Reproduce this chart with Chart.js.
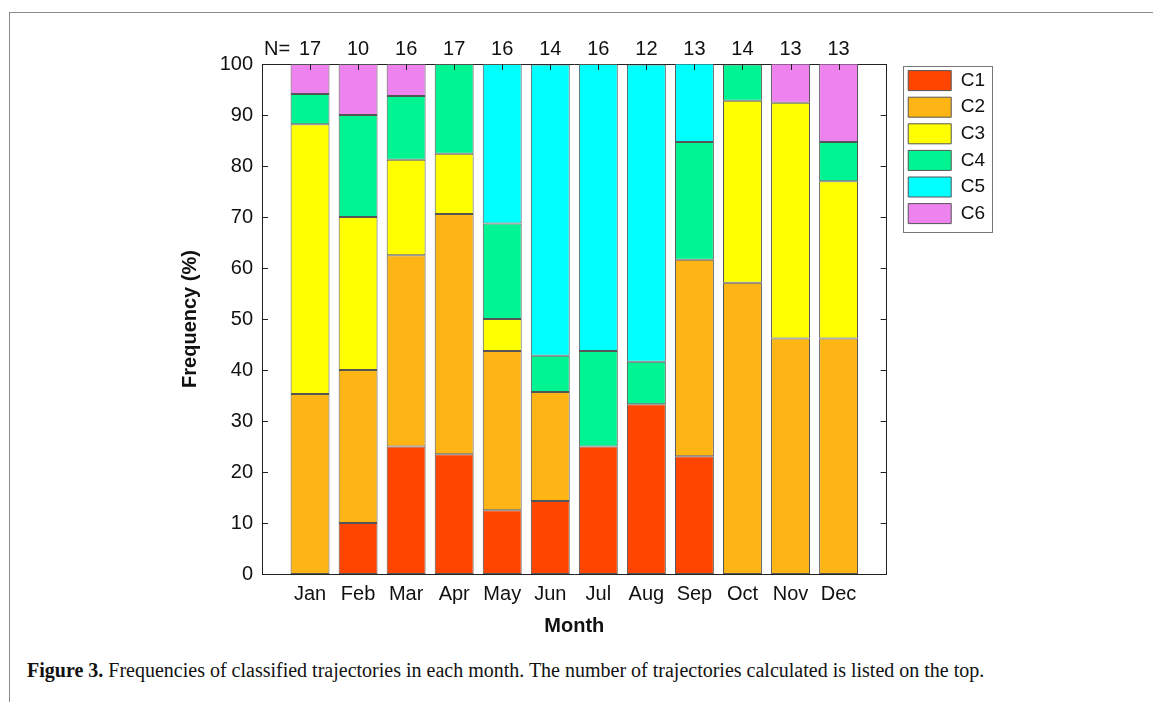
<!DOCTYPE html>
<html lang="en">
<head>
  <meta charset="UTF-8" />
  <title>Figure 3</title>
  <script src="https://cdn.jsdelivr.net/npm/chart.js"></script>
  <style>
    body { margin: 0; background: #fff; }
    .frame { position: absolute; left: 9px; top: 12px; right: -2px; bottom: -2px;
      border-top: 1.5px solid #8a8a8a; border-left: 1.5px solid #8a8a8a; }
    .grafico { position: absolute; left: 0; top: 0; width: 1153px; height: 650px; }
    .legenda { position: absolute; left: 27px; top: 659px; font-family: "Liberation Serif", serif;
      font-size: 20px; color: #111; white-space: nowrap; }
  </style>
</head>
<body>
  <div class="frame"></div>
  <div class="grafico"><canvas id="myChart" width="1153" height="650"></canvas></div>
  <div class="legenda"><b>Figure 3.</b> Frequencies of classified trajectories in each month. The number of trajectories calculated is listed on the top.</div>

<script>
  // dados (%)
  const meses = ['Jan', 'Feb', 'Mar', 'Apr', 'May', 'Jun', 'Jul', 'Aug', 'Sep', 'Oct', 'Nov', 'Dec'];
  const totalN = [17, 10, 16, 17, 16, 14, 16, 12, 13, 14, 13, 13];
  const c1 = [0, 10, 25, 23.5, 12.5, 14.3, 25, 33.3, 23.1, 0, 0, 0];
  const c2 = [35.3, 30, 37.5, 47.1, 31.25, 21.4, 0, 0, 38.5, 57.1, 46.2, 46.2];
  const c3 = [52.9, 30, 18.75, 11.8, 6.25, 0, 0, 0, 0, 35.7, 46.2, 30.8];
  const c4 = [5.9, 20, 12.5, 17.6, 18.75, 7.1, 18.75, 8.3, 23.1, 7.1, 0, 7.7];
  const c5 = [0, 0, 0, 0, 31.25, 57.1, 56.25, 58.3, 15.4, 0, 0, 0];
  const c6 = [5.9, 10, 6.25, 0, 0, 0, 0, 0, 0, 0, 7.7, 15.4];
  const yTicks = [0, 10, 20, 30, 40, 50, 60, 70, 80, 90, 100];

  const nomes = ['C1', 'C2', 'C3', 'C4', 'C5', 'C6'];
  const series = [c1, c2, c3, c4, c5, c6];
  const cores = ['#ff4500', '#fdb515', '#ffff00', '#00f592', '#00ffff', '#ee82ee'];

  // categoria vazia em cada ponta para deixar o espaco antes de Jan e depois de Dec
  let labels = [''].concat(meses, ['']);

  let dados = {
    labels: labels,
    datasets: series.map(function (s, i) {
      return {
        label: nomes[i],
        data: [null].concat(s, [null]),
        backgroundColor: cores[i],
        borderColor: '#555',
        borderWidth: 1,
        borderSkipped: false,
        barPercentage: 0.81,
        categoryPercentage: 1
      };
    })
  };

  // N= no topo, ticks para dentro e caixa da legenda
  const extras = {
    id: 'extras',
    afterDraw(chart) {
      const ctx = chart.ctx;
      const a = chart.chartArea;
      const x = chart.scales.x, y = chart.scales.y;
      ctx.save();
      ctx.strokeStyle = '#222';
      ctx.lineWidth = 1;
      ctx.beginPath();
      yTicks.forEach(function (v) {
        const py = Math.round(y.getPixelForValue(v)) + 0.5;
        ctx.moveTo(a.left, py); ctx.lineTo(a.left + 6, py);
        ctx.moveTo(a.right, py); ctx.lineTo(a.right - 6, py);
      });
      meses.forEach(function (m, i) {
        const px = Math.round(x.getPixelForValue(i + 1)) + 0.5;
        ctx.moveTo(px, a.top); ctx.lineTo(px, a.top + 6);
      });
      ctx.stroke();

      ctx.fillStyle = '#111';
      ctx.font = '20px "Liberation Sans", Arial, sans-serif';
      ctx.textAlign = 'center';
      ctx.textBaseline = 'alphabetic';
      totalN.forEach(function (n, i) {
        ctx.fillText(String(n), x.getPixelForValue(i + 1), a.top - 9);
      });
      ctx.textAlign = 'left';
      ctx.fillText('N=', a.left + 2, a.top - 9);

      const lg = chart.legend;
      if (lg && lg.legendHitBoxes.length) {
        const hb = lg.legendHitBoxes;
        const l = hb[0].left - 5, t = hb[0].top - 5;
        const last = hb[hb.length - 1];
        ctx.strokeStyle = '#777';
        ctx.strokeRect(Math.round(l) + 0.5, Math.round(t) + 0.5, 89, last.top + last.height - t + 8);
      }
      ctx.restore();
    }
  };

  const fonte = '"Liberation Sans", Arial, sans-serif';

  const config = {
    type: 'bar',
    data: dados,
    options: {
      responsive: false,
      animation: false,
      layout: { padding: { left: 170, top: 64, right: 158, bottom: 4 } },
      plugins: {
        legend: {
          position: 'right',
          align: 'start',
          labels: {
            boxWidth: 43,
            boxHeight: 20,
            padding: 6.6,
            color: '#111',
            font: { family: fonte, size: 19 }
          }
        },
        tooltip: { enabled: false }
      },
      scales: {
        x: {
          stacked: true,
          offset: false,
          grid: { display: false, drawTicks: false },
          border: { display: true, color: '#222', width: 1 },
          ticks: { color: '#111', padding: 8, maxRotation: 0, autoSkip: false,
            font: { family: fonte, size: 20 } },
          title: { display: true, text: 'Month', color: '#111', padding: { top: 0, bottom: 8 },
            font: { family: fonte, size: 20, weight: 'bold' } },
          afterFit: function (s) { s.height = 72; }
        },
        x2: {
          position: 'top',
          grid: { display: false, drawTicks: false },
          border: { display: true, color: '#222', width: 1 },
          ticks: { display: false },
          afterFit: function (s) { s.height = 0; }
        },
        y: {
          stacked: true,
          min: 0,
          max: 100,
          grid: { display: false, drawTicks: false },
          border: { display: true, color: '#222', width: 1 },
          ticks: { stepSize: 10, color: '#111', padding: 9,
            font: { family: fonte, size: 20 } },
          title: { display: true, text: 'Frequency (%)', color: '#111', padding: { top: 8, bottom: 0 },
            font: { family: fonte, size: 20, weight: 'bold' } },
          afterFit: function (s) { s.width = 92; }
        },
        y2: {
          position: 'right',
          min: 0,
          max: 100,
          grid: { display: false, drawTicks: false },
          border: { display: true, color: '#222', width: 1 },
          ticks: { display: false },
          afterFit: function (s) { s.width = 15; }
        }
      }
    },
    plugins: [extras]
  };

  let myChart = new Chart(document.getElementById('myChart'), config);
</script>
</body>
</html>
